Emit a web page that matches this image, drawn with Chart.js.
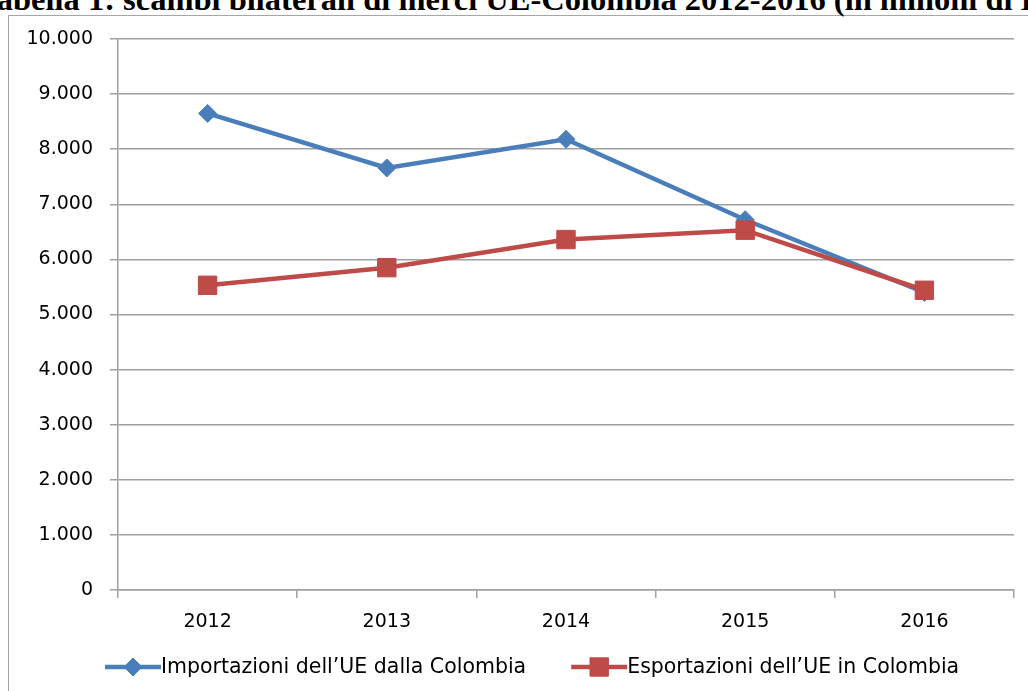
<!DOCTYPE html>
<html>
<head>
<meta charset="utf-8">
<script src="https://cdn.jsdelivr.net/npm/chart.js@4.4.1/dist/chart.umd.min.js"></script>
<style>
  html, body { margin: 0; padding: 0; background: #fff; overflow: hidden; }
  #page { position: relative; width: 1028px; height: 691px; overflow: hidden; }
  #title {
    position: absolute; left: -22px; top: -17px; white-space: nowrap;
    font: bold 32.5px "Liberation Serif", "Times New Roman", serif; color: #000;
    line-height: 32.5px;
  }
  #frame {
    position: absolute; left: 8px; top: 15px; width: 1200px; height: 800px;
    border: 1px solid #a6a6a6;
  }
  #wrap { position: absolute; left: 0; top: 0; width: 1028px; height: 691px; }
</style>
</head>
<body>
<div id="page">
  <div id="frame"></div>
  <div id="title">Tabella 1: scambi bilaterali di merci UE-Colombia 2012-2016 (in milioni di EUR)</div>
  <div id="wrap"><canvas id="tradeChart"></canvas></div>
</div>
<script>
// Interscambio UE-Colombia, milioni di EUR
const years = ['2012', '2013', '2014', '2015', '2016'];
const importsFromColombia = [8650, 7660, 8180, 6720, 5400];
const exportsToColombia = [5530, 5850, 6360, 6530, 5440];
const yTicks = [0, 1000, 2000, 3000, 4000, 5000, 6000, 7000, 8000, 9000, 10000];

const BLUE = '#4A7EBB';
const RED = '#BE4B48';
const GRID = '#a0a0a0';
const FONT = 'DejaVu Sans';

// 10000 -> "10.000"
const fmt = v => String(v).replace(/\B(?=(\d{3})+(?!\d))/g, '.');

// Excel-style legend: short line with the marker on it, then the label
const lineLegend = {
    id: 'lineLegend',
    afterDraw(chart) {
        const { ctx } = chart;
        const y = 667;
        const lineLen = 56;
        let x = 105;
        ctx.save();
        ctx.font = `20.5px "${FONT}"`;
        ctx.textBaseline = 'middle';
        chart.data.datasets.forEach(ds => {
            ctx.strokeStyle = ds.borderColor;
            ctx.lineWidth = ds.borderWidth;
            ctx.beginPath();
            ctx.moveTo(x, y);
            ctx.lineTo(x + lineLen, y);
            ctx.stroke();
            ctx.fillStyle = ds.pointBackgroundColor;
            ctx.strokeStyle = ds.pointBorderColor;
            ctx.lineWidth = 1;
            Chart.helpers.drawPoint(ctx, {
                pointStyle: ds.pointStyle, radius: ds.pointRadius, rotation: 0, borderWidth: 1,
            }, x + lineLen / 2, y);
            ctx.fillStyle = '#000';
            ctx.fillText(ds.label, x + lineLen, y + 1);
            x += lineLen + ctx.measureText(ds.label).width + 45;
        });
        ctx.restore();
    },
};

new Chart(document.getElementById('tradeChart'), {
    type: 'line',
    data: {
        labels: years,
        datasets: [
            {
                label: 'Importazioni dell\u2019UE dalla Colombia',
                data: importsFromColombia,
                borderColor: BLUE,
                borderWidth: 4.5,
                pointStyle: 'rectRot',
                pointRadius: 9,
                pointBackgroundColor: BLUE,
                pointBorderColor: BLUE,
                pointBorderWidth: 1,
                tension: 0,
                order: 1,
            },
            {
                // exports series sits on top where the two lines meet
                label: 'Esportazioni dell\u2019UE in Colombia',
                data: exportsToColombia,
                borderColor: RED,
                borderWidth: 4.5,
                pointStyle: 'rect',
                pointRadius: 13,
                pointBackgroundColor: RED,
                pointBorderColor: RED,
                pointBorderWidth: 1,
                tension: 0,
                order: 0,
            },
        ],
    },
    options: {
        responsive: true,
        maintainAspectRatio: false,
        animation: false,
        layout: { padding: { top: 39, right: 10, left: 0, bottom: 0 } },
        plugins: {
            legend: { display: false },
            tooltip: { enabled: false },
        },
        scales: {
            x: {
                offset: true,
                grid: {
                    offset: true,
                    drawOnChartArea: false,
                    drawTicks: true,
                    tickLength: 8,
                    color: GRID,
                    lineWidth: 1.5,
                },
                border: { color: GRID, width: 1.5 },
                ticks: { color: '#000', padding: 13, font: { family: FONT, size: 19 } },
                afterFit: s => {
                    s.height = 101;
                    s.paddingLeft = 0;
                    s.paddingRight = 0;
                },
            },
            y: {
                min: 0,
                max: 10000,
                afterBuildTicks: s => { s.ticks = yTicks.map(v => ({ value: v })); },
                grid: { color: GRID, lineWidth: 1.5, drawTicks: true, tickLength: 8 },
                border: { color: GRID, width: 1.5 },
                ticks: {
                    color: '#000',
                    padding: 17,
                    font: { family: FONT, size: 19 },
                    callback: v => fmt(v),
                },
                afterFit: s => { s.width = 118; },
            },
        },
    },
    plugins: [lineLegend],
});
</script>
</body>
</html>
